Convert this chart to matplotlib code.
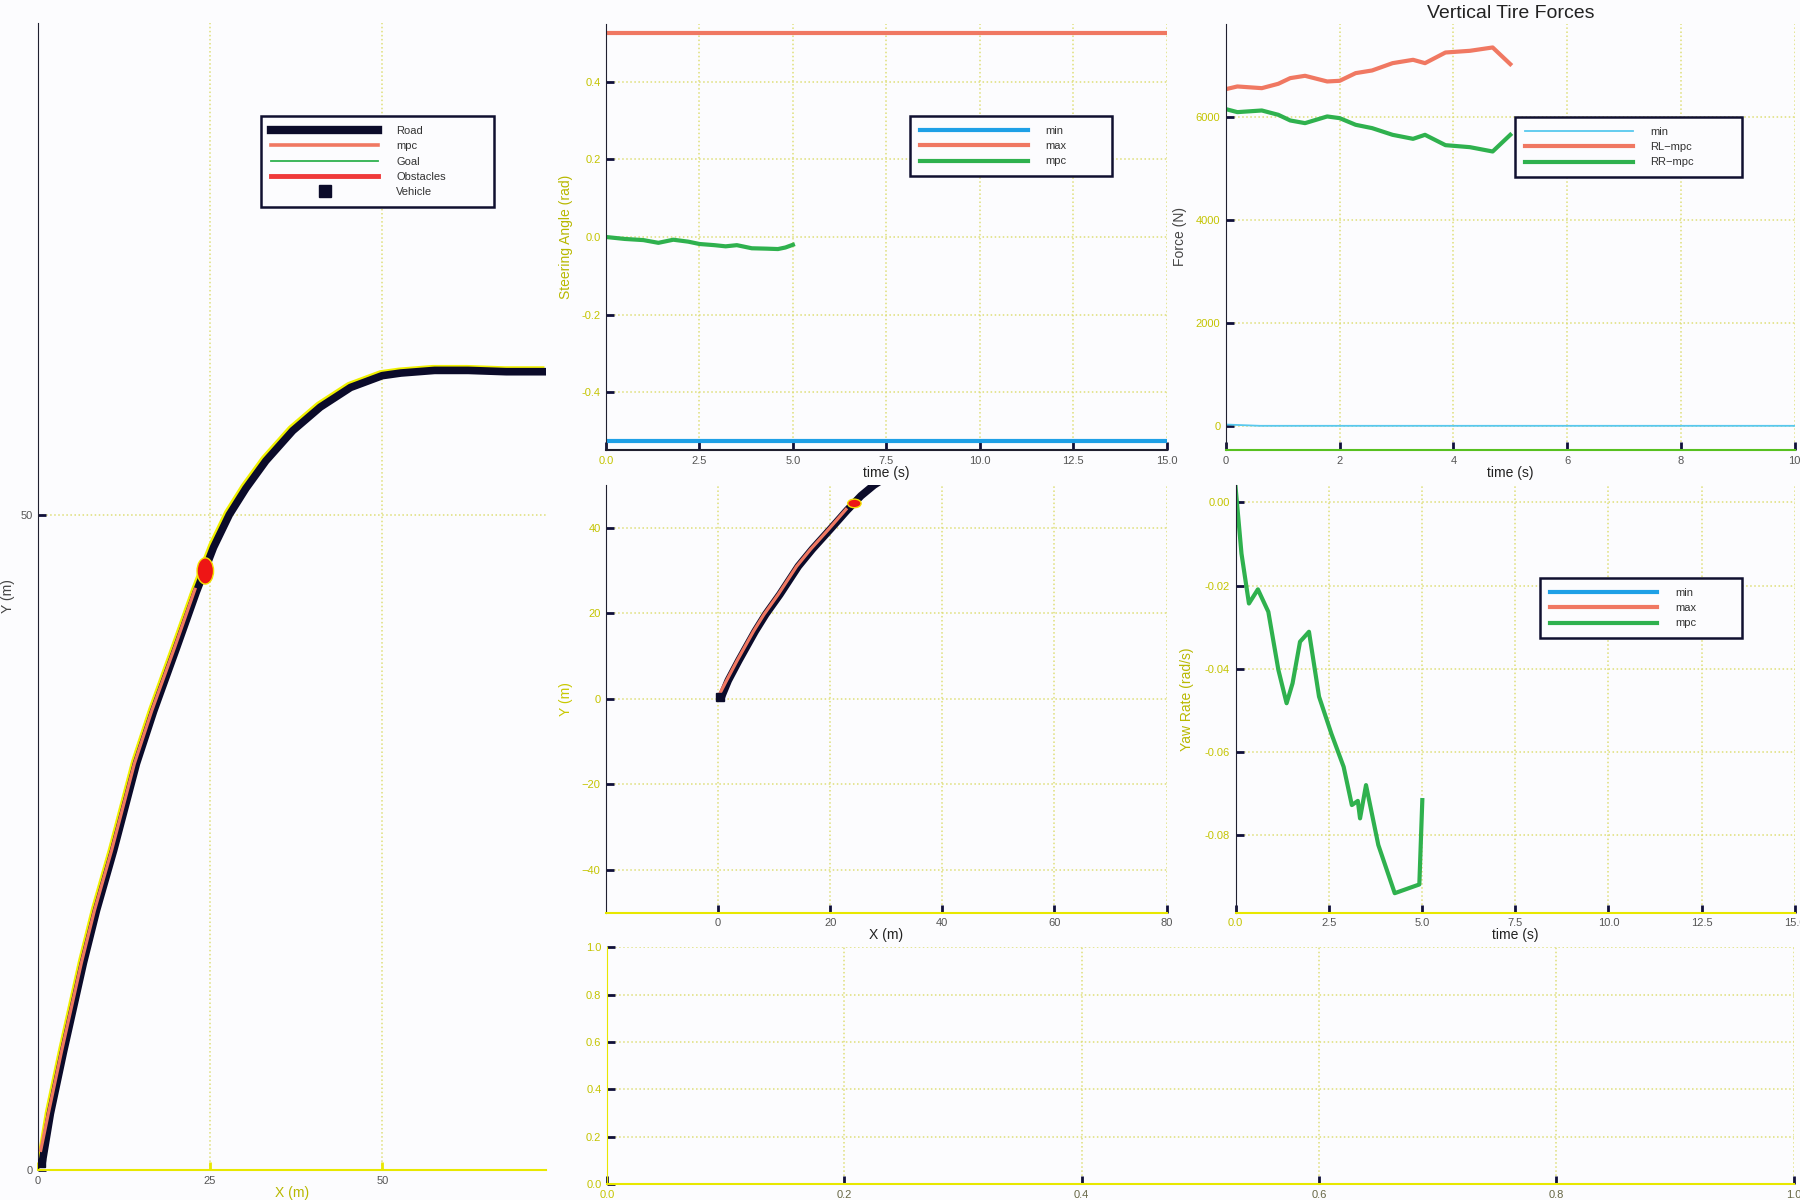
import numpy as np
import matplotlib.pyplot as plt
import matplotlib.transforms as mtransforms
from matplotlib.lines import Line2D
from matplotlib.patches import Ellipse

# ---- path data (m) ----
road_x = [0.5, 1.8, 3.7, 6.6, 8.5, 11.0, 14.3, 16.8, 20.1, 23.0, 25.5, 27.8, 30.2, 33.1, 37.0,
          41.0, 45.4, 50.0, 52.7, 57.6, 62.5, 68.0, 73.8]
road_y = [0.2, 4.3, 9.0, 15.8, 19.8, 24.4, 31.0, 35.0, 39.8, 44.1, 47.5, 50.0, 52.0, 54.1, 56.4,
          58.2, 59.7, 60.6, 60.8, 61.0, 61.0, 60.9, 60.9]
mpc_x = [0.4, 1.5, 3.4, 6.3, 8.2, 10.7, 14.0, 16.5, 19.8, 22.8]
mpc_y = [1.5, 4.3, 9.0, 15.8, 19.8, 24.4, 31.0, 35.0, 39.8, 44.3]
obst_xy = (24.3, 45.7)
obst_w = 2.4
obst_h = 2.0
veh_x = [0.4]
veh_y = [0.5]

# ---- steering ----
steer_t = [0.0, 0.5, 1.0, 1.4, 1.8, 2.2, 2.5, 2.9, 3.2, 3.5, 3.9, 4.3, 4.6, 4.8, 5.0]
steer_mpc = [0.0, -0.005, -0.008, -0.015, -0.007, -0.012, -0.018, -0.021, -0.024, -0.021,
             -0.029, -0.030, -0.031, -0.027, -0.020]
lim_t = [0.0, 15.0]
steer_min = [-0.5236, -0.5236]
steer_max = [0.5236, 0.5236]

# ---- vertical tire forces ----
force_t = [0.0, 0.2, 0.63, 0.92, 1.13, 1.39, 1.78, 2.0, 2.28, 2.57, 2.93, 3.29, 3.5, 3.86, 4.29, 4.69, 5.0]
force_rl = [6544, 6596, 6563, 6648, 6758, 6803, 6693, 6706, 6855, 6907, 7049, 7114, 7049, 7256, 7289, 7354, 7030]
force_rr = [6155, 6097, 6129, 6045, 5935, 5883, 6013, 5980, 5851, 5786, 5656, 5578, 5656, 5455, 5416, 5332, 5656]
fmin_t = [0.0, 0.6, 10.0]
fmin = [25, 0, 0]

# ---- yaw rate ----
yaw_t = [0.0, 0.16, 0.36, 0.60, 0.88, 1.15, 1.37, 1.53, 1.73, 1.97, 2.24, 2.57, 2.90,
         3.12, 3.28, 3.34, 3.50, 3.83, 4.27, 4.93, 5.01]
yaw_mpc = [0.0038, -0.0123, -0.0243, -0.0209, -0.0263, -0.0403, -0.0483, -0.0435, -0.0335, -0.0311,
           -0.0467, -0.0556, -0.0636, -0.0728, -0.0718, -0.0760, -0.0680, -0.0824, -0.0940, -0.0919, -0.0716]

plt.rcParams['font.family'] = ['Liberation Sans', 'DejaVu Sans']
BG = '#fcfcfe'
SALMON = '#f07862'
BLUE = '#1ea0e6'
GREEN = '#2fb14e'
ROAD = '#0b0b2a'
YEL = '#c4c400'
GRID = '#dede78'

fig = plt.figure(figsize=(18, 12), dpi=100, facecolor=BG)


def style(ax, bottom_col='#e8e800', ylab_col=YEL, xlab_col='#555555'):
    ax.set_facecolor(BG)
    for s in ('top', 'right'):
        ax.spines[s].set_visible(False)
    ax.spines['left'].set_color('#202030')
    ax.spines['bottom'].set_color(bottom_col)
    ax.spines['bottom'].set_linewidth(1.5)
    ax.tick_params(direction='in', length=6, width=2, color='#10103a', labelsize=8, pad=4)
    ax.tick_params(axis='y', labelcolor=ylab_col)
    ax.tick_params(axis='x', labelcolor=xlab_col)
    ax.grid(True, color=GRID, linestyle=':', linewidth=1.1)
    ax.set_axisbelow(True)


def legend(ax, handles, labels, x, y, w):
    leg = ax.legend(handles, labels, loc='upper left', bbox_to_anchor=(x, y, w, 0), mode='expand',
                    borderaxespad=0, fancybox=False, framealpha=1, facecolor=BG, edgecolor='#101030',
                    fontsize=8, handlelength=9.7, handletextpad=1.6, borderpad=0.9, labelspacing=0.47)
    leg.get_frame().set_linewidth(1.8)
    for t in leg.get_texts():
        t.set_color('#333333')
    return leg


def draw_road(ax, lw=5.5, fringe=True):
    if fringe:
        off = mtransforms.ScaledTranslation(-1.2 / 72, 1.2 / 72, fig.dpi_scale_trans)
        ax.plot(road_x, road_y, color='#f0f000', lw=lw, transform=ax.transData + off,
                solid_capstyle='butt', zorder=2)
    ax.plot(road_x, road_y, color=ROAD, lw=lw, solid_capstyle='butt', zorder=3)
    ax.plot(mpc_x, mpc_y, color=SALMON, lw=2.3, zorder=4)
    ax.add_patch(Ellipse(obst_xy, obst_w, obst_h, facecolor='#ee1515',
                         edgecolor='#f4e000', lw=1.0, zorder=5))
    ax.plot(veh_x, veh_y, 's', color=ROAD, ms=6, zorder=6)


# ---- panel 1: full road ----
ax1 = fig.add_axes([0.0211, 0.025, 0.2823, 0.9558])
style(ax1, ylab_col='#555555')
draw_road(ax1)
ax1.set_xlim(0, 73.8)
ax1.set_ylim(0, 87.5)
ax1.set_xticks([0, 25, 50])
ax1.set_yticks([0, 50])
ax1.tick_params(axis='x', color='#e8e800')
ax1.set_xlabel('X (m)', fontsize=10, color='#b8b800', labelpad=0)
ax1.set_ylabel('Y (m)', fontsize=10, color='#444444', labelpad=4)
h1 = [Line2D([], [], color=ROAD, lw=6),
      Line2D([], [], color=SALMON, lw=2.6),
      Line2D([], [], color=GREEN, lw=1.3),
      Line2D([], [], color='#f03a3a', lw=3.5),
      Line2D([], [], color=ROAD, marker='s', ms=8, lw=0)]
legend(ax1, h1, ['Road', 'mpc', 'Goal', 'Obstacles', 'Vehicle'], 0.4383, 0.9189, 0.4586)

# ---- panel 2: steering ----
ax2 = fig.add_axes([0.3367, 0.625, 0.3114, 0.355])
style(ax2, bottom_col='#202030')
l_min, = ax2.plot(lim_t, steer_min, color=BLUE, lw=3)
l_max, = ax2.plot(lim_t, steer_max, color=SALMON, lw=3)
l_mpc, = ax2.plot(steer_t, steer_mpc, color=GREEN, lw=3)
ax2.set_xlim(0, 15)
ax2.set_ylim(-0.548, 0.548)
ax2.set_xticks(np.arange(0, 15.1, 2.5))
ax2.set_yticks([-0.4, -0.2, 0.0, 0.2, 0.4])
ax2.xaxis.set_major_formatter(plt.FormatStrFormatter('%.1f'))
ax2.yaxis.set_major_formatter(plt.FormatStrFormatter('%.1f'))
ax2.set_xlabel('time (s)', fontsize=10, color='#222222', labelpad=0)
ax2.set_ylabel('Steering Angle (rad)', fontsize=10, color='#b8b800', labelpad=6)
legend(ax2, [l_min, l_max, l_mpc], ['min', 'max', 'mpc'], 0.5424, 0.784, 0.360)

# ---- panel 3: vertical tire forces ----
ax3 = fig.add_axes([0.6811, 0.625, 0.3159, 0.355])
style(ax3, bottom_col='#58c020')
f_min, = ax3.plot(fmin_t, fmin, color='#58c8ee', lw=1.3)
f_rl, = ax3.plot(force_t, force_rl, color=SALMON, lw=3)
f_rr, = ax3.plot(force_t, force_rr, color=GREEN, lw=3)
ax3.set_xlim(0, 10)
ax3.set_ylim(-470, 7810)
ax3.set_xticks([0, 2, 4, 6, 8, 10])
ax3.set_yticks([0, 2000, 4000, 6000])
ax3.set_title('Vertical Tire Forces', fontsize=14, color='#222222', pad=4)
ax3.set_xlabel('time (s)', fontsize=10, color='#222222', labelpad=0)
ax3.set_ylabel('Force (N)', fontsize=10, color='#444444', labelpad=6)
legend(ax3, [f_min, f_rl, f_rr], ['min', 'RL\u2212mpc', 'RR\u2212mpc'], 0.5082, 0.7817, 0.399)

# ---- panel 4: local path view ----
ax4 = fig.add_axes([0.3367, 0.2394, 0.3114, 0.3564])
style(ax4)
draw_road(ax4, lw=5.5, fringe=False)
ax4.set_xlim(-20, 80)
ax4.set_ylim(-50, 50)
ax4.set_xticks([0, 20, 40, 60, 80])
ax4.set_yticks([-40, -20, 0, 20, 40])
ax4.set_xlabel('X (m)', fontsize=10, color='#222222', labelpad=0)
ax4.set_ylabel('Y (m)', fontsize=10, color='#c8c800', labelpad=6)

# ---- panel 5: yaw rate ----
ax5 = fig.add_axes([0.6864, 0.2394, 0.3107, 0.3564])
style(ax5)
y_min, = ax5.plot([], [], color=BLUE, lw=3)
y_max, = ax5.plot([], [], color=SALMON, lw=3)
y_mpc, = ax5.plot(yaw_t, yaw_mpc, color=GREEN, lw=3)
ax5.set_xlim(0, 15)
ax5.set_ylim(-0.0987, 0.0042)
ax5.set_xticks(np.arange(0, 15.1, 2.5))
ax5.set_yticks([-0.08, -0.06, -0.04, -0.02, 0.0])
ax5.xaxis.set_major_formatter(plt.FormatStrFormatter('%.1f'))
ax5.yaxis.set_major_formatter(plt.FormatStrFormatter('%.2f'))
ax5.set_xlabel('time (s)', fontsize=10, color='#222222', labelpad=0)
ax5.set_ylabel('Yaw Rate (rad/s)', fontsize=10, color='#b8b800', labelpad=8)
legend(ax5, [y_min, y_max, y_mpc], ['min', 'max', 'mpc'], 0.5438, 0.7826, 0.361)

# ---- panel 6: empty ----
ax6 = fig.add_axes([0.3372, 0.0133, 0.6594, 0.1973])
style(ax6, xlab_col='#666644')
ax6.spines['left'].set_color('#e8e800')
ax6.set_xlim(0, 1)
ax6.set_ylim(0, 1)
ax6.set_xticks(np.arange(0, 1.01, 0.2))
ax6.set_yticks(np.arange(0, 1.01, 0.2))
ax6.xaxis.set_major_formatter(plt.FormatStrFormatter('%.1f'))
ax6.yaxis.set_major_formatter(plt.FormatStrFormatter('%.1f'))

for ax in (ax2, ax5, ax6):
    ax.get_xticklabels()[0].set_color(YEL)

fig.savefig('out.png', dpi=100, facecolor=BG)
